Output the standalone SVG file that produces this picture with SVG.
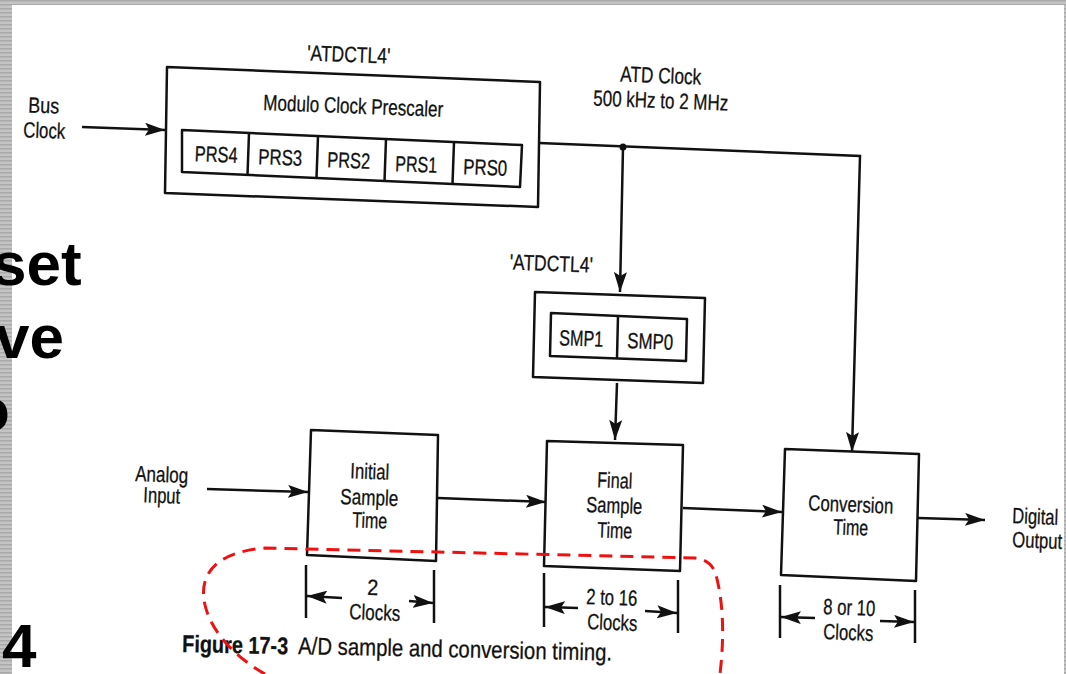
<svg xmlns="http://www.w3.org/2000/svg" width="1066" height="674" viewBox="0 0 1066 674">
<defs>
<pattern id="stripes" width="12" height="4" patternUnits="userSpaceOnUse">
<rect width="12" height="4" fill="#c4c4c4"/>
<rect y="0" width="12" height="1.5" fill="#a9a9a9"/>
</pattern>
<marker id="ah" viewBox="0 0 20 13" refX="20" refY="6.5" markerWidth="20" markerHeight="13" markerUnits="userSpaceOnUse" orient="auto">
<path d="M0,0 L20,6.5 L0,13 L4,6.5 z" fill="#111"/>
</marker>
</defs>
<style>
.box{fill:#fff;stroke:#111;stroke-width:2.5;stroke-linejoin:round}
.ln{fill:none;stroke:#111;stroke-width:2.5}
.arr{fill:none;stroke:#111;stroke-width:2.5;marker-end:url(#ah)}
.t{font-family:"Liberation Sans",Arial,sans-serif;font-size:22px;fill:#111;stroke:#111;stroke-width:0.3;text-anchor:middle}
.cap{font-family:"Liberation Sans",Arial,sans-serif;font-size:24px;fill:#111;stroke:#111;stroke-width:0.3}
.slide{font-family:"Liberation Sans",Arial,sans-serif;font-size:62px;font-weight:bold;fill:#000}
.red{fill:none;stroke:#ee1111;stroke-width:3;stroke-dasharray:13 8}
</style>
<rect width="1066" height="674" fill="#fff"/>
<g id="border">
<rect x="0" y="0" width="1066" height="5" fill="url(#stripes)"/>
<rect x="0" y="0" width="12" height="674" fill="url(#stripes)"/>
<rect x="1064" y="0" width="2" height="674" fill="url(#stripes)"/>
</g>
<g id="slide-text">
<text class="slide" x="-8" y="285">set</text>
<text class="slide" x="-5" y="358">ve</text>
<text class="slide" x="-28" y="431">o</text>
<text class="slide" x="2" y="667">4</text>
</g>
<g id="connectors">
<line class="arr" x1="82" y1="127" x2="165" y2="130"/>
<polyline class="arr" points="539,143 860,156 852,452"/>
<circle cx="623" cy="147" r="3.5" fill="#111"/>
<line class="arr" x1="623" y1="147" x2="620" y2="292"/>
<line class="arr" x1="617" y1="383" x2="615" y2="440"/>
<line class="arr" x1="207" y1="489" x2="308" y2="492"/>
<line class="arr" x1="438" y1="498" x2="546" y2="502"/>
<line class="arr" x1="683" y1="508" x2="782" y2="512"/>
<line class="arr" x1="918" y1="518" x2="985" y2="520"/>
</g>
<g id="dim-initial">
<line class="ln" x1="306" y1="565" x2="306" y2="618"/>
<line class="ln" x1="434" y1="570" x2="434" y2="623"/>
<line class="arr" x1="342" y1="598" x2="307" y2="596"/>
<line class="arr" x1="409" y1="601" x2="433" y2="603"/>
<text class="t" transform="rotate(2.2 372.5 595)" x="372.5" y="595" textLength="11" lengthAdjust="spacingAndGlyphs">2</text>
<text class="t" transform="rotate(2.2 374.5 620)" x="374.5" y="620" textLength="51" lengthAdjust="spacingAndGlyphs">Clocks</text>
</g>
<g id="dim-final">
<line class="ln" x1="544" y1="573" x2="544" y2="627"/>
<line class="ln" x1="678" y1="580" x2="678" y2="633"/>
<line class="arr" x1="578" y1="608" x2="545" y2="607"/>
<line class="arr" x1="645" y1="611" x2="677" y2="613"/>
<text class="t" transform="rotate(2.2 611.5 605)" x="611.5" y="605" textLength="51" lengthAdjust="spacingAndGlyphs">2 to 16</text>
<text class="t" transform="rotate(2.2 612 630)" x="612" y="630" textLength="50" lengthAdjust="spacingAndGlyphs">Clocks</text>
</g>
<g id="dim-conversion">
<line class="ln" x1="780" y1="585" x2="780" y2="638"/>
<line class="ln" x1="915" y1="590" x2="915" y2="643"/>
<line class="arr" x1="815" y1="618" x2="781" y2="617"/>
<line class="arr" x1="880" y1="621" x2="914" y2="622"/>
<text class="t" transform="rotate(2.2 849 615)" x="849" y="615" textLength="52" lengthAdjust="spacingAndGlyphs">8 or 10</text>
<text class="t" transform="rotate(2.2 848 640)" x="848" y="640" textLength="50" lengthAdjust="spacingAndGlyphs">Clocks</text>
</g>
<g id="labels">
<text class="t" transform="rotate(2.2 43.5 113)" x="43.5" y="113" textLength="31" lengthAdjust="spacingAndGlyphs">Bus</text>
<text class="t" transform="rotate(2.2 44 138)" x="44" y="138" textLength="42" lengthAdjust="spacingAndGlyphs">Clock</text>
<text class="t" transform="rotate(2.2 348.5 62)" x="348.5" y="62" textLength="83" lengthAdjust="spacingAndGlyphs">'ATDCTL4'</text>
<text class="t" transform="rotate(2.2 660.5 83)" x="660.5" y="83" textLength="81" lengthAdjust="spacingAndGlyphs">ATD Clock</text>
<text class="t" transform="rotate(2.2 660.5 108)" x="660.5" y="108" textLength="135" lengthAdjust="spacingAndGlyphs">500 kHz to 2 MHz</text>
<text class="t" transform="rotate(2.2 551 271)" x="551" y="271" textLength="83" lengthAdjust="spacingAndGlyphs">'ATDCTL4'</text>
<text class="t" transform="rotate(2.2 161.5 482)" x="161.5" y="482" textLength="53" lengthAdjust="spacingAndGlyphs">Analog</text>
<text class="t" transform="rotate(2.2 161.5 503)" x="161.5" y="503" textLength="37" lengthAdjust="spacingAndGlyphs">Input</text>
<text class="t" transform="rotate(2.2 1035 524)" x="1035" y="524" textLength="46" lengthAdjust="spacingAndGlyphs">Digital</text>
<text class="t" transform="rotate(2.2 1037 548)" x="1037" y="548" textLength="50" lengthAdjust="spacingAndGlyphs">Output</text>
</g>
<g id="prescaler">
<polygon class="box" points="167,67 540,82 538,207 165,193"/>
<text class="t" transform="rotate(2.2 353 113.5)" x="353" y="113.5" textLength="180" lengthAdjust="spacingAndGlyphs">Modulo Clock Prescaler</text>
<polygon class="box" points="182,130 522,145 520,187 182,172"/>
<line class="ln" x1="249" y1="133" x2="247.5" y2="175"/>
<line class="ln" x1="318" y1="136" x2="316.5" y2="178"/>
<line class="ln" x1="386" y1="139" x2="384.5" y2="181"/>
<line class="ln" x1="454" y1="142" x2="452.5" y2="184"/>
<text class="t" transform="rotate(2.2 216 162)" x="216" y="162" textLength="43" lengthAdjust="spacingAndGlyphs">PRS4</text>
<text class="t" transform="rotate(2.2 280 165)" x="280" y="165" textLength="44" lengthAdjust="spacingAndGlyphs">PRS3</text>
<text class="t" transform="rotate(2.2 348.5 168)" x="348.5" y="168" textLength="43" lengthAdjust="spacingAndGlyphs">PRS2</text>
<text class="t" transform="rotate(2.2 416 172)" x="416" y="172" textLength="42" lengthAdjust="spacingAndGlyphs">PRS1</text>
<text class="t" transform="rotate(2.2 485 175)" x="485" y="175" textLength="44" lengthAdjust="spacingAndGlyphs">PRS0</text>
</g>
<g id="smp">
<polygon class="box" points="535,292 705,298 703,383 533,377"/>
<polygon class="box" points="551,313 687,319 686,361 550,356"/>
<line class="ln" x1="618" y1="316" x2="617" y2="358"/>
<text class="t" transform="rotate(2.2 581 346)" x="581" y="346" textLength="44" lengthAdjust="spacingAndGlyphs">SMP1</text>
<text class="t" transform="rotate(2.2 650 349)" x="650" y="349" textLength="46" lengthAdjust="spacingAndGlyphs">SMP0</text>
</g>
<g id="initial-sample">
<polygon class="box" points="311,430 438,435 436,561 307,555"/>
<text class="t" transform="rotate(2.2 369.5 479)" x="369.5" y="479" textLength="39" lengthAdjust="spacingAndGlyphs">Initial</text>
<text class="t" transform="rotate(2.2 369 505)" x="369" y="505" textLength="58" lengthAdjust="spacingAndGlyphs">Sample</text>
<text class="t" transform="rotate(2.2 369.5 528)" x="369.5" y="528" textLength="35" lengthAdjust="spacingAndGlyphs">Time</text>
</g>
<g id="final-sample">
<polygon class="box" points="547,441 683,445 680,571 544,566"/>
<text class="t" transform="rotate(2.2 614.5 488)" x="614.5" y="488" textLength="35" lengthAdjust="spacingAndGlyphs">Final</text>
<text class="t" transform="rotate(2.2 614 513)" x="614" y="513" textLength="56" lengthAdjust="spacingAndGlyphs">Sample</text>
<text class="t" transform="rotate(2.2 614.5 538)" x="614.5" y="538" textLength="35" lengthAdjust="spacingAndGlyphs">Time</text>
</g>
<g id="conversion">
<polygon class="box" points="785,449 919,454 916,581 781,575"/>
<text class="t" transform="rotate(2.2 850.5 512)" x="850.5" y="512" textLength="85" lengthAdjust="spacingAndGlyphs">Conversion</text>
<text class="t" transform="rotate(2.2 850.5 535)" x="850.5" y="535" textLength="35" lengthAdjust="spacingAndGlyphs">Time</text>
</g>
<g id="caption">
<text class="cap" font-weight="bold" transform="rotate(1.2 182 652)" x="182" y="652" textLength="106" lengthAdjust="spacingAndGlyphs">Figure 17-3</text>
<text class="cap" transform="rotate(1.2 298 654)" x="298" y="654" textLength="314" lengthAdjust="spacingAndGlyphs">A/D sample and conversion timing.</text>
</g>
<path id="highlight" class="red" d="M265,674 C240,660 212,635 205,605 C198,575 215,552 265,548 L695,558 Q712,560 716,575 C724,605 724,640 720,674"/>
</svg>
